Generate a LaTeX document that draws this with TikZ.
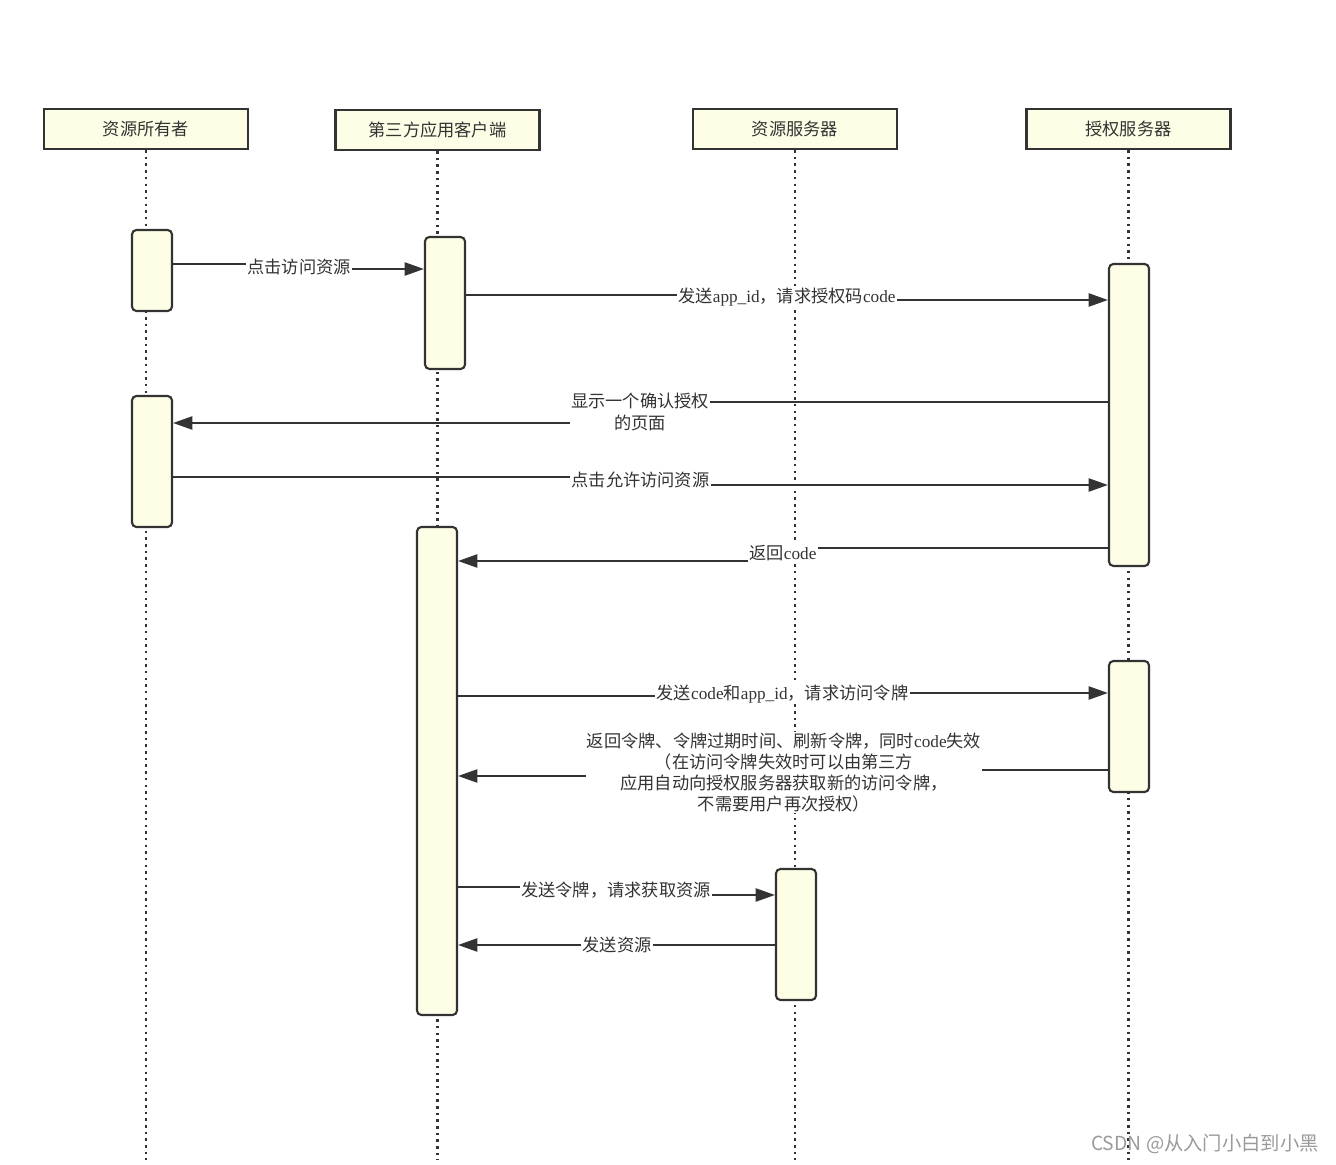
\documentclass[tikz,border=0pt]{standalone}
\usepackage{fontspec}
\setmainfont{Noto Sans CJK SC}
\newfontfamily\lat{Liberation Serif}
\usetikzlibrary{arrows.meta,positioning,calc}
\definecolor{boxfill}{HTML}{FEFEE6}
\definecolor{inkline}{HTML}{333333}
\definecolor{inktext}{HTML}{333333}
\definecolor{mark}{HTML}{9A9A9A}

\tikzset{
  header/.style={draw=inkline,line width=1.3pt,fill=boxfill,minimum width=4.08cm,minimum height=0.8cm,inner sep=0pt,text=inktext},
  lifeline/.style={inkline,line width=1.4pt,dash pattern=on 1.4pt off 2.4pt},
  actbox/.style={draw=inkline,line width=1.2pt,fill=boxfill,rounded corners=2.5pt,minimum width=0.8cm,inner sep=0pt},
  msg/.style={fill=white,inner sep=0.5pt,text=inktext,align=center},
  seg/.style={inkline,line width=1.1pt},
  call/.style={seg,-{Triangle[length=11pt,width=7.5pt]}},
}

\begin{document}
\begin{tikzpicture}[font=\fontsize{9.8}{12}\selectfont]
  \useasboundingbox (0,0) rectangle (26.72,23.28);
  % participants
  \node[header] (owner) at (2.92,20.70) {资源所有者};
  \node[header] (client) at (8.75,20.68) {第三方应用客户端};
  \node[header] (rserver) at (15.90,20.70) {资源服务器};
  \node[header] (aserver) at (22.57,20.70) {授权服务器};
  \draw[lifeline] (owner.south) -- (owner.south |- 0,0.08);
  \draw[lifeline] (client.south) -- (client.south |- 0,0.08);
  \draw[lifeline] (rserver.south) -- (rserver.south |- 0,0.08);
  \draw[lifeline] (aserver.south) -- (aserver.south |- 0,0.08);
  % activations
  \node[actbox,minimum height=1.62cm] (owner1) at (3.04,17.87) {};
  \node[actbox,minimum height=2.62cm] (owner2) at (3.04,14.05) {};
  \node[actbox,minimum height=2.64cm] (client1) at (8.90,17.22) {};
  \node[actbox,minimum height=9.76cm] (client2) at (8.74,7.86) {};
  \node[actbox,minimum height=6.04cm] (auth1) at (22.58,14.98) {};
  \node[actbox,minimum height=2.62cm] (auth2) at (22.58,8.75) {};
  \node[actbox,minimum height=2.62cm] (res1) at (15.92,4.59) {};
  % messages
  \node[msg] (m1) at (5.98,17.94) {点击访问资源};
  \draw[seg] ([yshift=0.06cm]m1.west -| owner1.east) -- ([yshift=0.06cm]m1.west);
  \draw[call] ([yshift=-0.04cm]m1.east) -- ([yshift=-0.04cm]m1.east -| client1.west);
  \node[msg] (m2) at (15.74,17.34) {发送{\lat app\_id}，请求授权码{\lat code}};
  \draw[seg] ([yshift=0.04cm]m2.west -| client1.east) -- ([yshift=0.04cm]m2.west);
  \draw[call] ([yshift=-0.06cm]m2.east) -- ([yshift=-0.06cm]m2.east -| auth1.west);
  \node[msg] (m3) at (12.80,15.04) {显示一个确认授权\\的页面};
  \draw[seg] ([yshift=0.2cm]m3.east -| auth1.west) -- ([yshift=0.2cm]m3.east);
  \draw[call] ([yshift=-0.22cm]m3.west) -- ([yshift=-0.22cm]m3.west -| owner2.east);
  \node[msg] (m4) at (12.81,13.68) {点击允许访问资源};
  \draw[seg] ([yshift=0.06cm]m4.west -| owner2.east) -- ([yshift=0.06cm]m4.west);
  \draw[call] ([yshift=-0.1cm]m4.east) -- ([yshift=-0.1cm]m4.east -| auth1.west);
  \node[msg] (m5) at (15.66,12.22) {返回{\lat code}};
  \draw[seg] ([yshift=0.1cm]m5.east -| auth1.west) -- ([yshift=0.1cm]m5.east);
  \draw[call] ([yshift=-0.16cm]m5.west) -- ([yshift=-0.16cm]m5.west -| client2.east);
  \node[msg] (m6) at (15.65,9.40) {发送{\lat code}和{\lat app\_id}，请求访问令牌};
  \draw[seg] ([yshift=-0.04cm]m6.west -| client2.east) -- ([yshift=-0.04cm]m6.west);
  \draw[call] ([yshift=0.02cm]m6.east) -- ([yshift=0.02cm]m6.east -| auth2.west);
  \node[msg] (m7) at (15.68,7.83) {返回令牌、令牌过期时间、刷新令牌，同时{\lat code}失效\\（在访问令牌失效时可以由第三方\\应用自动向授权服务器获取新的访问令牌，\\不需要用户再次授权）};
  \draw[seg] ([yshift=0.05cm]m7.east -| auth2.west) -- ([yshift=0.05cm]m7.east);
  \draw[call] ([yshift=-0.07cm]m7.west) -- ([yshift=-0.07cm]m7.west -| client2.east);
  \node[msg] (m8) at (12.32,5.48) {发送令牌，请求获取资源};
  \draw[seg] ([yshift=0.06cm]m8.west -| client2.east) -- ([yshift=0.06cm]m8.west);
  \draw[call] ([yshift=-0.1cm]m8.east) -- ([yshift=-0.1cm]m8.east -| res1.west);
  \node[msg] (m9) at (12.34,4.38) {发送资源};
  \draw[seg] (m9.east -| res1.west) -- (m9.east);
  \draw[call] (m9.west) -- (m9.west -| client2.east);
  % watermark
  \node[text=mark,font=\fontsize{11}{13}\selectfont,inner sep=0pt] (wm) at (24.1,0.40) {CSDN @从入门小白到小黑};
\end{tikzpicture}
\end{document}
